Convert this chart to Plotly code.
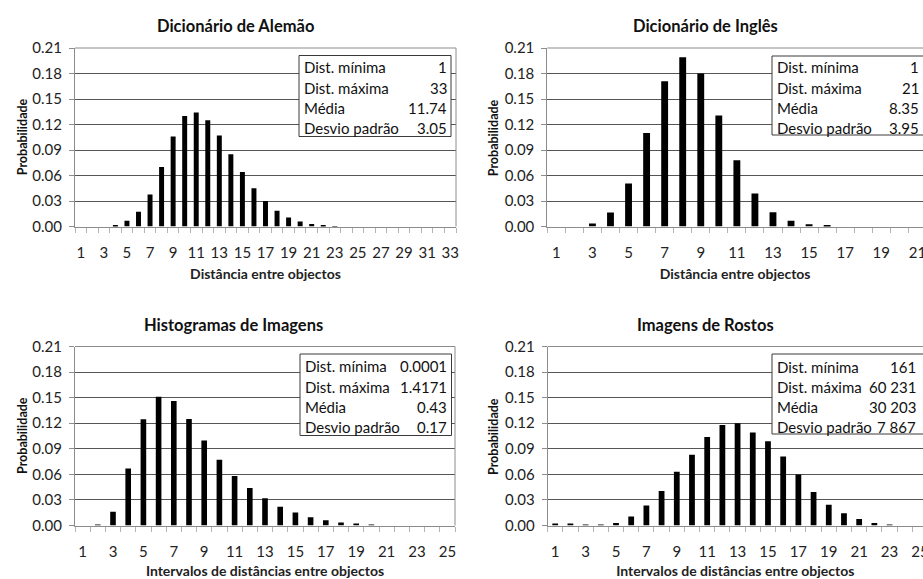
import plotly.graph_objects as go

W, H = 923, 579

# ---------------- data ----------------
titles = ["Dicionário de Alemão", "Dicionário de Inglês",
          "Histogramas de Imagens", "Imagens de Rostos"]
xtitles = ["Distância entre objectos", "Distância entre objectos",
           "Intervalos de distâncias entre objectos", "Intervalos de distâncias entre objectos"]
ytitle = "Probabilidade"

cats_german = list(range(1, 34))
prob_german = [0, 0, 0, 0.0015, 0.0067, 0.0173, 0.0377, 0.070, 0.106, 0.130,
               0.134, 0.125, 0.107, 0.085, 0.064, 0.045, 0.030, 0.0185, 0.0106, 0.006,
               0.003, 0.001, 0.0004, 0, 0, 0, 0, 0, 0, 0, 0, 0, 0]

cats_english = list(range(1, 22))
prob_english = [0, 0, 0.0035, 0.0165, 0.0506, 0.110, 0.171, 0.199, 0.180, 0.1306,
                0.078, 0.0388, 0.0169, 0.0067, 0.0027, 0.001, 0, 0, 0, 0, 0]

cats_hist = list(range(1, 26))
prob_hist = [0, 0.0008, 0.016, 0.067, 0.1247, 0.151, 0.146, 0.125, 0.0996, 0.077,
             0.058, 0.044, 0.032, 0.022, 0.0153, 0.0098, 0.0063, 0.0035, 0.002, 0.001,
             0, 0, 0, 0, 0]

cats_faces = list(range(1, 26))
prob_faces = [0.0015, 0.0015, 0.001, 0.0005, 0.003, 0.0106, 0.0236, 0.0405, 0.063, 0.083,
              0.1038, 0.118, 0.120, 0.109, 0.0987, 0.081, 0.0598, 0.0393, 0.0244, 0.0145,
              0.0075, 0.003, 0.001, 0, 0]

stat_labels = ["Dist. mínima", "Dist. máxima", "Média", "Desvio padrão"]
stats_german = ["1", "33", "11.74", "3.05"]
stats_english = ["1", "21", "8.35", "3.95"]
stats_hist = ["0.0001", "1.4171", "0.43", "0.17"]
stats_faces = ["161", "60 231", "30 203", "7 867"]

yticks = [0.00, 0.03, 0.06, 0.09, 0.12, 0.15, 0.18, 0.21]

# ---------------- layout helpers ----------------
def px(x):
    return x / W

def py(y):
    return 1 - y / H

FONT = "Lato, 'Open Sans', sans-serif"
AXIS_C = "#8c8c8c"

panels = [
    dict(cats=cats_german, vals=prob_german, stats=stats_german,
         xd=(75, 456), yd=(48, 226.5), xr=[0.5, 33.5], bw=0.43,
         box=(299, 451, 55.5, 136.5), valx=449, rows=[67.5, 87.5, 107.5, 127.5],
         tcx=235, tcy=26, ytx=22),
    dict(cats=cats_english, vals=prob_english, stats=stats_english,
         xd=(547.3, 923), yd=(48, 226.5), xr=[0.5, 21.31], bw=0.38,
         box=(772, 923, 56, 135), valx=921, rows=[67.5, 87.5, 107.5, 127.5],
         tcx=705, tcy=26, ytx=493),
    dict(cats=cats_hist, vals=prob_hist, stats=stats_hist,
         xd=(75, 455), yd=(346.5, 525.5), xr=[0.5, 25.5], bw=0.37,
         box=(300, 451.5, 354, 435.5), valx=449, rows=[366, 386.5, 406.5, 426.5],
         tcx=233, tcy=325, ytx=22),
    dict(cats=cats_faces, vals=prob_faces, stats=stats_faces,
         xd=(547.6, 923), yd=(346.5, 525.5), xr=[0.5, 25.2], bw=0.38,
         box=(772, 923, 354, 434), valx=918, rows=[366.5, 386.5, 406.5, 426.5],
         tcx=705, tcy=325, ytx=493),
]

fig = go.Figure()
shapes = []
annotations = []

def hline(x0, x1, y, color, width=1):
    shapes.append(dict(type="line", xref="paper", yref="paper", layer="above",
                       x0=px(x0), x1=px(x1), y0=py(y), y1=py(y),
                       line=dict(color=color, width=width)))

def vline(x, y0, y1, color, width=1):
    shapes.append(dict(type="line", xref="paper", yref="paper", layer="above",
                       x0=px(x), x1=px(x), y0=py(y0), y1=py(y1),
                       line=dict(color=color, width=width)))

for i, p in enumerate(panels):
    n = i + 1
    xa = "x" if n == 1 else f"x{n}"
    ya = "y" if n == 1 else f"y{n}"
    fig.add_trace(go.Bar(x=p["cats"], y=p["vals"], xaxis=xa, yaxis=ya,
                         marker=dict(color="black", line=dict(width=0)),
                         width=p["bw"], showlegend=False, hoverinfo="x+y"))
    xkey = "xaxis" if n == 1 else f"xaxis{n}"
    ykey = "yaxis" if n == 1 else f"yaxis{n}"
    fig.layout[xkey] = dict(
        domain=[px(p["xd"][0]), px(p["xd"][1])], anchor=ya, range=p["xr"],
        automargin=False,
        tickmode="array", tickvals=p["cats"][::2], ticktext=[str(c) for c in p["cats"][::2]],
        ticks="", showgrid=False, zeroline=False,
        showline=True, linecolor=AXIS_C, linewidth=1,
        tickfont=dict(family=FONT, size=15, color="#222"),
        ticklabelstandoff=12, ticklabeloverflow="allow",
        minor=dict(tickmode="array", tickvals=[c - 0.5 for c in p["cats"]] + [p["cats"][-1] + 0.5],
                   ticks="outside", ticklen=5, tickcolor="#b4b4b4", tickwidth=1, showgrid=False),
        title=dict(text=f"<b>{xtitles[i]}</b>", font=dict(family=FONT, size=14, color="#222"),
                   standoff=9),
        fixedrange=True,
    )
    fig.layout[ykey] = dict(
        domain=[py(p["yd"][1]), py(p["yd"][0])], anchor=xa, range=[0, 0.21],
        automargin=False,
        tickmode="array", tickvals=yticks, ticktext=[f"{v:.2f}" for v in yticks],
        ticks="outside", ticklen=5, tickcolor=AXIS_C,
        showgrid=True, gridcolor="#555555", gridwidth=1, zeroline=False,
        showline=True, linecolor=AXIS_C, linewidth=1,
        tickfont=dict(family=FONT, size=15, color="#222"),
        ticklabelstandoff=4, fixedrange=True,
    )
    # plot area top + right border
    hline(p["xd"][0], p["xd"][1], p["yd"][0], AXIS_C)
    if p["xd"][1] < W:
        vline(p["xd"][1], p["yd"][0], p["yd"][1], AXIS_C)
    # stats box: white fill + left/top/bottom (+right if inside the page)
    bx0, bx1, by0, by1 = p["box"]
    shapes.append(dict(type="rect", xref="paper", yref="paper", layer="above",
                       x0=px(bx0), x1=px(bx1), y0=py(by1), y1=py(by0),
                       fillcolor="white", line=dict(width=0)))
    BOX_C = "#3a3a3a"
    hline(bx0, bx1, by0, BOX_C)
    hline(bx0, bx1, by1, BOX_C)
    vline(bx0, by0, by1, BOX_C)
    if bx1 < W:
        vline(bx1, by0, by1, BOX_C)
    for lab, val, ry in zip(stat_labels, p["stats"], p["rows"]):
        annotations.append(dict(xref="paper", yref="paper", x=px(bx0 + 3), y=py(ry),
                                text=lab, showarrow=False, xanchor="left", yanchor="middle",
                                font=dict(family=FONT, size=15, color="#111")))
        annotations.append(dict(xref="paper", yref="paper", x=px(p["valx"]), y=py(ry),
                                text=val, showarrow=False, xanchor="right", yanchor="middle",
                                font=dict(family=FONT, size=15, color="#111")))
    # panel title
    annotations.append(dict(xref="paper", yref="paper", x=px(p["tcx"]), y=py(p["tcy"]),
                            text=f"<b>{titles[i]}</b>", showarrow=False,
                            xanchor="center", yanchor="middle",
                            font=dict(family=FONT, size=16.5, color="#111")))
    # y title
    annotations.append(dict(xref="paper", yref="paper", x=px(p["ytx"]),
                            y=py((p["yd"][0] + p["yd"][1]) / 2),
                            text=f"<b>{ytitle}</b>", showarrow=False, textangle=-90,
                            xanchor="center", yanchor="middle",
                            font=dict(family=FONT, size=12.5, color="#111")))

fig.update_layout(
    width=W, height=H, margin=dict(l=0, r=0, t=0, b=0, autoexpand=False),
    paper_bgcolor="white", plot_bgcolor="white",
    shapes=shapes, annotations=annotations, bargap=0.6,
)

fig.write_html("out.html", config={"displayModeBar": False})
